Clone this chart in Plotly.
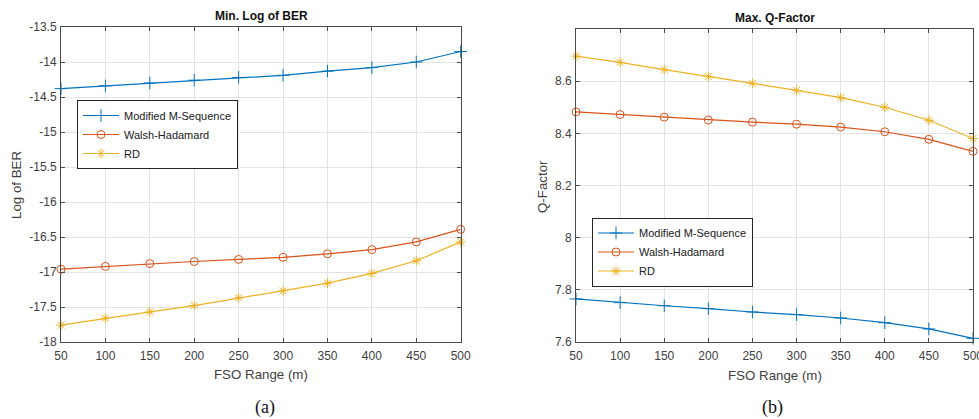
import plotly.graph_objects as go

# ---------------- data ----------------
fso_range = [50, 100, 150, 200, 250, 300, 350, 400, 450, 500]
series_names = ["Modified M-Sequence", "Walsh-Hadamard", "RD"]

ber_mms = [-14.38, -14.34, -14.30, -14.26, -14.22, -14.19, -14.13, -14.08, -14.00, -13.85]
ber_wh = [-16.96, -16.92, -16.88, -16.85, -16.82, -16.79, -16.74, -16.68, -16.57, -16.39]
ber_rd = [-17.76, -17.66, -17.57, -17.48, -17.37, -17.27, -17.16, -17.02, -16.84, -16.57]

q_mms = [7.765, 7.751, 7.739, 7.728, 7.715, 7.705, 7.692, 7.674, 7.650, 7.614]
q_wh = [8.482, 8.472, 8.462, 8.451, 8.443, 8.435, 8.424, 8.406, 8.377, 8.331]
q_rd = [8.696, 8.672, 8.644, 8.618, 8.592, 8.565, 8.537, 8.500, 8.450, 8.380]

x_ticks = [50, 100, 150, 200, 250, 300, 350, 400, 450, 500]
ber_ticks = [-18, -17.5, -17, -16.5, -16, -15.5, -15, -14.5, -14, -13.5]
ber_ticktext = ["-18", "-17.5", "-17", "-16.5", "-16", "-15.5", "-15", "-14.5", "-14", "-13.5"]
q_ticks = [7.6, 7.8, 8.0, 8.2, 8.4, 8.6]
q_ticktext = ["7.6", "7.8", "8", "8.2", "8.4", "8.6"]

# ---------------- style ----------------
W, H = 979, 419
colors = ["#0072BD", "#D95319", "#EDB120"]
symbols = ["cross-thin", "circle-open", "asterisk-open"]
msizes = [9, 8, 8]
FONT = "Liberation Sans, Arial, sans-serif"
AXC = "#4a4a4a"
GRID = "#e3e3e3"


def px(xp):
    return xp / W


def py(yp):
    return 1 - yp / H


fig = go.Figure()

for i, (name, ys) in enumerate(zip(series_names, [ber_mms, ber_wh, ber_rd])):
    fig.add_trace(go.Scatter(
        x=fso_range, y=ys, name=name, mode="lines+markers",
        line=dict(color=colors[i], width=1.2),
        marker=dict(symbol=symbols[i], size=msizes[i], color=colors[i],
                    line=dict(color=colors[i], width=1)),
        cliponaxis=False, xaxis="x", yaxis="y", legend="legend"))

for i, (name, ys) in enumerate(zip(series_names, [q_mms, q_wh, q_rd])):
    fig.add_trace(go.Scatter(
        x=fso_range, y=ys, name=name, mode="lines+markers",
        line=dict(color=colors[i], width=1.2),
        marker=dict(symbol=symbols[i], size=msizes[i], color=colors[i],
                    line=dict(color=colors[i], width=1)),
        cliponaxis=False, xaxis="x2", yaxis="y2", legend="legend2"))

axis_common = dict(
    showline=True, linecolor=AXC, linewidth=1, mirror="allticks",
    ticks="inside", ticklen=4, tickcolor=AXC, tickwidth=1,
    showgrid=True, gridcolor=GRID, gridwidth=1, zeroline=False,
    automargin=False, ticklabeloverflow="allow",
    tickfont=dict(family=FONT, size=12, color="#404040"),
)

fig.update_layout(
    width=W, height=H,
    margin=dict(l=0, r=0, t=0, b=0, autoexpand=False),
    paper_bgcolor="white", plot_bgcolor="white",
    xaxis=dict(domain=[px(61), px(460.7)], range=[50, 500], tickvals=x_ticks,
               anchor="y", ticklabelstandoff=3, **axis_common),
    yaxis=dict(domain=[py(342), py(27)], range=[-18, -13.5], tickvals=ber_ticks,
               ticktext=ber_ticktext, anchor="x", ticklabelstandoff=1, **axis_common),
    xaxis2=dict(domain=[px(576), px(973)], range=[50, 500], tickvals=x_ticks,
                anchor="y2", ticklabelstandoff=3, **axis_common),
    yaxis2=dict(domain=[py(342), py(29)], range=[7.6, 8.8], tickvals=q_ticks,
                ticktext=q_ticktext, anchor="x2", ticklabelstandoff=1, **axis_common),
    legend=dict(x=px(77), y=py(134.5), xanchor="left", yanchor="middle",
                bgcolor="white", bordercolor="#262626", borderwidth=1,
                font=dict(family=FONT, size=11, color="#202020"),
                tracegroupgap=0, itemwidth=36),
    legend2=dict(x=px(592), y=py(252), xanchor="left", yanchor="middle",
                 bgcolor="white", bordercolor="#262626", borderwidth=1,
                 font=dict(family=FONT, size=11, color="#202020"),
                 tracegroupgap=0, itemwidth=36),
    showlegend=True,
)

ann = []
# titles
ann.append(dict(text="<b>Min. Log of BER</b>", x=px(261), y=py(15.5), font=dict(size=12, color="#111")))
ann.append(dict(text="<b>Max. Q-Factor</b>", x=px(775), y=py(18.5), font=dict(size=12, color="#111")))
# x labels
ann.append(dict(text="FSO Range (m)", x=px(261), y=py(374), font=dict(size=13.3, color="#404040")))
ann.append(dict(text="FSO Range (m)", x=px(775), y=py(375), font=dict(size=13.3, color="#404040")))
# y labels
ann.append(dict(text="Log of BER", x=px(17), y=py(185), textangle=-90, font=dict(size=13.3, color="#404040")))
ann.append(dict(text="Q-Factor", x=px(542), y=py(187), textangle=-90, font=dict(size=13.3, color="#404040")))
# captions
ann.append(dict(text="(a)", x=px(265), y=py(407),
                font=dict(family="Liberation Serif, serif", size=18, color="#111")))
ann.append(dict(text="(b)", x=px(772), y=py(407),
                font=dict(family="Liberation Serif, serif", size=18, color="#111")))

for a in ann:
    a.setdefault("font", {})
    a["font"].setdefault("family", FONT)
    fig.add_annotation(xref="paper", yref="paper", xanchor="center", yanchor="middle",
                       showarrow=False, **a)

fig.write_html("out.html")
